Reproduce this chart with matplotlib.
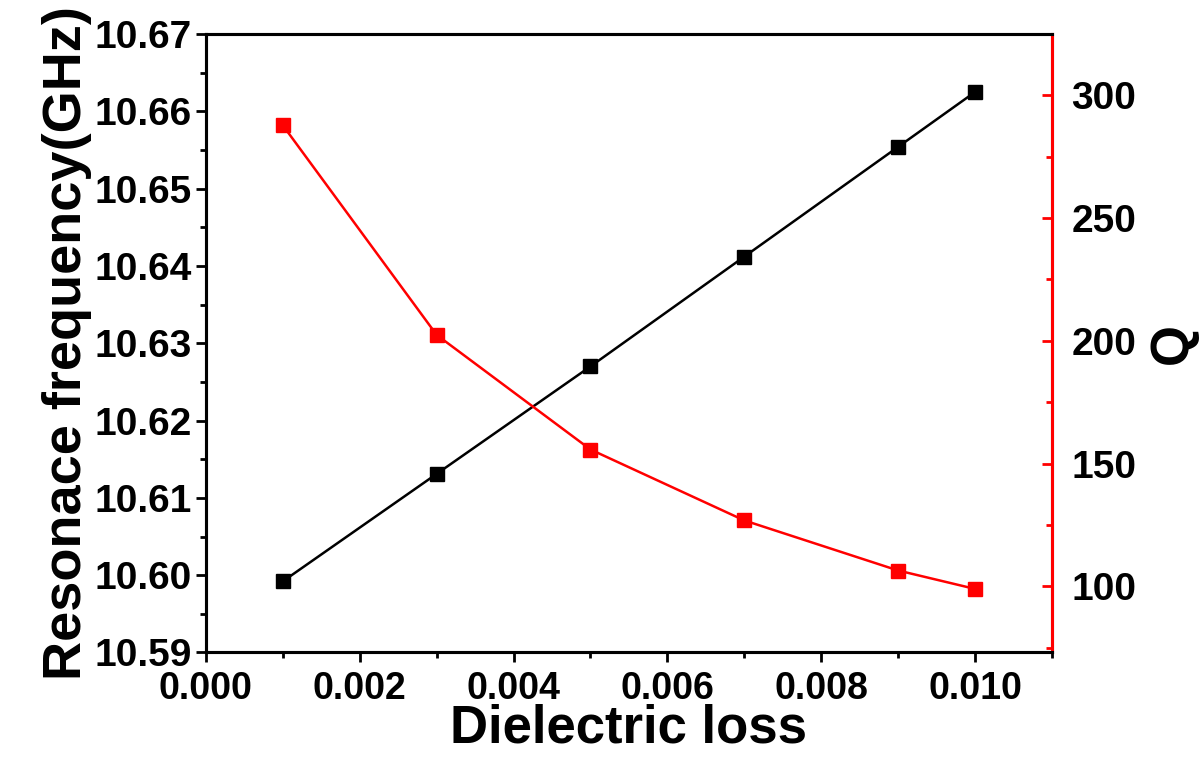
import matplotlib
matplotlib.use("Agg")
import matplotlib.pyplot as plt
from matplotlib.ticker import MultipleLocator, FormatStrFormatter

# Data
dielectric_loss = [0.001, 0.003, 0.005, 0.007, 0.009, 0.010]
resonance_freq = [10.5992, 10.6131, 10.6270, 10.6412, 10.6554, 10.6625]
q_factor = [287.8, 202.4, 155.7, 126.8, 106.4, 98.9]

plt.rcParams['font.family'] = ['Liberation Sans', 'DejaVu Sans']
plt.rcParams['font.weight'] = 'bold'

fig = plt.figure(figsize=(11.99, 7.72), dpi=100)
ax = fig.add_axes([0.1717, 0.1548, 0.7057, 0.8012])
ax2 = ax.twinx()

ax.plot(dielectric_loss, resonance_freq, color='black', lw=1.8,
        marker='s', markersize=10, zorder=3)
ax2.plot(dielectric_loss, q_factor, color='red', lw=1.8,
         marker='s', markersize=10, zorder=3)

ax.set_xlim(0, 0.011)
ax.set_ylim(10.59, 10.67)
ax2.set_ylim(73, 325)

ax.xaxis.set_major_locator(MultipleLocator(0.002))
ax.xaxis.set_minor_locator(MultipleLocator(0.001))
ax.xaxis.set_major_formatter(FormatStrFormatter('%.3f'))
ax.yaxis.set_major_locator(MultipleLocator(0.01))
ax.yaxis.set_minor_locator(MultipleLocator(0.005))
ax.yaxis.set_major_formatter(FormatStrFormatter('%.2f'))
ax2.yaxis.set_major_locator(MultipleLocator(50))
ax2.yaxis.set_minor_locator(MultipleLocator(25))

for a in (ax, ax2):
    for s in a.spines.values():
        s.set_linewidth(2.2)
ax2.spines['right'].set_color('red')

ax.tick_params(axis='y', which='major', direction='out', length=7, width=2,
               labelsize=28, pad=3)
ax.tick_params(axis='x', which='major', direction='out', length=7, width=2,
               labelsize=27, pad=6)
ax.tick_params(axis='both', which='minor', direction='out', length=4, width=2)
ax2.tick_params(axis='y', which='major', direction='in', length=7, width=2,
                color='red', labelsize=28, labelcolor='black', pad=14)
ax2.tick_params(axis='y', which='minor', direction='in', length=4, width=2,
                color='red')

for lbl in ax.get_xticklabels() + ax.get_yticklabels() + ax2.get_yticklabels():
    lbl.set_fontweight('bold')

ax.set_xlabel('Dielectric loss', fontsize=38, fontweight='bold', labelpad=-2)
ax.set_ylabel('Resonace frequency(GHz)', fontsize=39, fontweight='bold', labelpad=2)
ax2.set_ylabel('Q', fontsize=38, fontweight='bold', labelpad=8)

fig.savefig('out.png', dpi=100)
